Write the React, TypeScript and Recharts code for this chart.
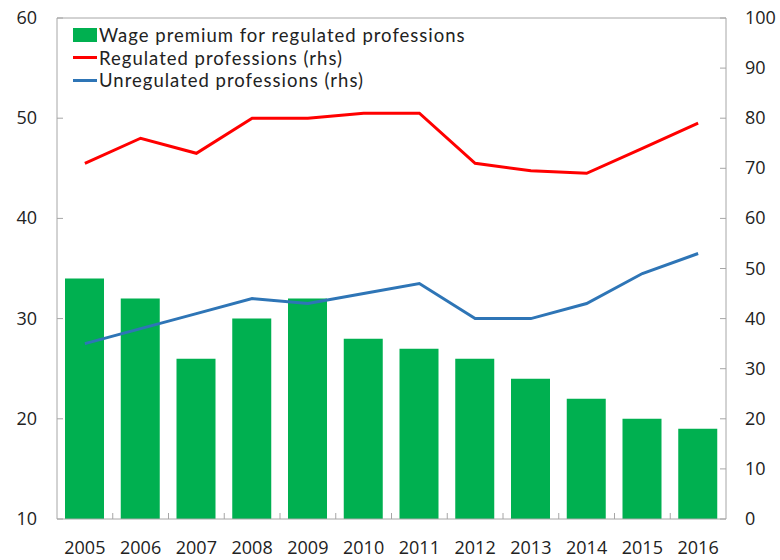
import React from 'react';
import { ComposedChart, Bar, Line, XAxis, YAxis } from 'recharts';

if (typeof document !== 'undefined') document.body.style.margin = '0';

const years = ['2005', '2006', '2007', '2008', '2009', '2010', '2011', '2012', '2013', '2014', '2015', '2016'];
const wagePremium = [34, 32, 26, 30, 32, 28, 27, 26, 24, 22, 20, 19];
const regulated = [71, 76, 73, 80, 80, 81, 81, 71, 69.5, 69, 74, 79];
const unregulated = [35, 38, 41, 44, 43, 45, 47, 40, 40, 43, 49, 53];
const leftTicks = [10, 20, 30, 40, 50, 60];
const rightTicks = [0, 10, 20, 30, 40, 50, 60, 70, 80, 90, 100];

const data = years.map((year, i) => ({
  year,
  premium: wagePremium[i],
  regulated: regulated[i],
  unregulated: unregulated[i],
}));

const FONT = '"Open Sans", "Noto Sans", sans-serif';
const LEGEND_FONT = 'Lato, "Open Sans", sans-serif';
const AXIS = '#a6a6a6';
const GREEN = '#00b050';
const RED = '#ff0000';
const BLUE = '#2e75b6';
const HALF_BAND = 669 / 12 / 2;

const LeftTick = (props: any) => {
  const { x, y, payload } = props;
  return (
    <g>
      <line x1={x} x2={x + 6} y1={y} y2={y} stroke={AXIS} />
      <text x={x - 20} y={y} dy={6} textAnchor="end" fontSize={18} fill="#222" fontFamily={FONT}>
        {payload.value}
      </text>
    </g>
  );
};

const RightTick = (props: any) => {
  const { x, y, payload } = props;
  return (
    <g>
      <line x1={x - 6} x2={x} y1={y} y2={y} stroke={AXIS} />
      <text x={x + 19} y={y} dy={6} textAnchor="start" fontSize={18} fill="#222" fontFamily={FONT}>
        {payload.value}
      </text>
    </g>
  );
};

const BottomTick = (props: any) => {
  const { x, y, payload, index } = props;
  return (
    <g>
      {index < years.length - 1 && (
        <line x1={x + HALF_BAND} x2={x + HALF_BAND} y1={y} y2={y - 6} stroke={AXIS} />
      )}
      <text x={x} y={y + 35} textAnchor="middle" fontSize={18} fill="#222" fontFamily={FONT}>
        {payload.value}
      </text>
    </g>
  );
};

const legendItems = [
  { label: 'Wage premium for regulated professions', color: GREEN, type: 'bar' },
  { label: 'Regulated professions (rhs)', color: RED, type: 'line' },
  { label: 'Unregulated professions (rhs)', color: BLUE, type: 'line' },
];

const LegendBox = () => (
  <div
    style={{
      position: 'absolute',
      top: 24,
      left: 73,
      fontFamily: LEGEND_FONT,
      fontSize: 18.5,
      letterSpacing: 1,
      color: '#222',
      lineHeight: '22.5px',
      pointerEvents: 'none',
    }}
  >
    {legendItems.map((item) => (
      <div key={item.label} style={{ display: 'flex', alignItems: 'center', height: 22.5 }}>
        <span
          style={{
            display: 'inline-block',
            width: 24,
            height: item.type === 'bar' ? 14 : 3,
            background: item.color,
            marginRight: 2,
          }}
        />
        <span>{item.label}</span>
      </div>
    ))}
  </div>
);

export default function App() {
  return (
    <div style={{ position: 'relative', width: 780, height: 560 }}>
      <ComposedChart width={780} height={560} data={data} margin={{ top: 17, right: 0, bottom: 0, left: 0 }}>
        <XAxis
          dataKey="year"
          height={41}
          stroke={AXIS}
          tickLine={false}
          tickSize={0}
          tickMargin={0}
          interval={0}
          tick={<BottomTick />}
        />
        <XAxis xAxisId="top" orientation="top" dataKey="year" height={1} stroke={AXIS} tick={false} tickLine={false} />
        <YAxis
          yAxisId="left"
          width={57}
          domain={[10, 60]}
          ticks={leftTicks}
          stroke={AXIS}
          tickLine={false}
          tickSize={0}
          tickMargin={0}
          tick={<LeftTick />}
        />
        <YAxis
          yAxisId="right"
          orientation="right"
          width={54}
          domain={[0, 100]}
          ticks={rightTicks}
          stroke={AXIS}
          tickLine={false}
          tickSize={0}
          tickMargin={0}
          tick={<RightTick />}
        />
        <Bar yAxisId="left" dataKey="premium" fill={GREEN} barSize={39} isAnimationActive={false} />
        <Line
          yAxisId="right"
          type="linear"
          dataKey="regulated"
          stroke={RED}
          strokeWidth={3}
          dot={false}
          isAnimationActive={false}
        />
        <Line
          yAxisId="right"
          type="linear"
          dataKey="unregulated"
          stroke={BLUE}
          strokeWidth={3}
          dot={false}
          isAnimationActive={false}
        />
      </ComposedChart>
      <LegendBox />
    </div>
  );
}
